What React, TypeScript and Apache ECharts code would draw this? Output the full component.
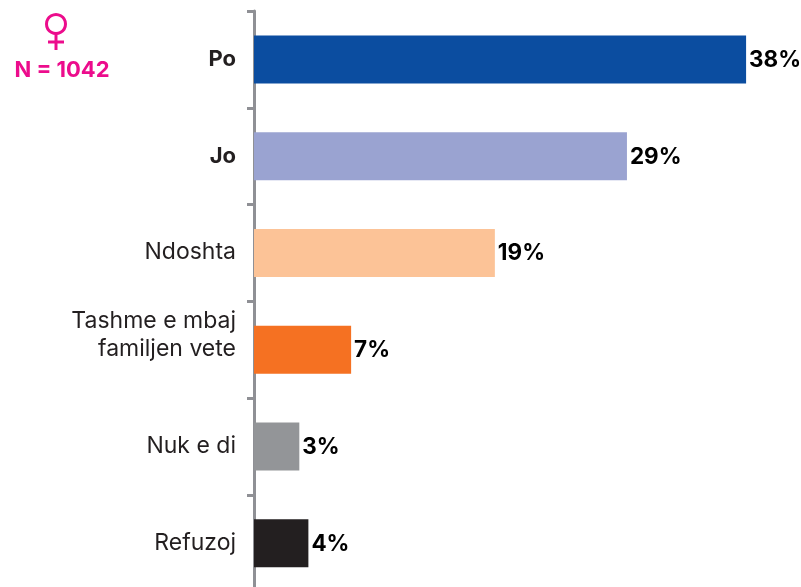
import React, { useEffect, useRef } from "react";
import * as echarts from "echarts";

const categories = ["Po", "Jo", "Ndoshta", "Tashme e mbaj\nfamiljen vete", "Nuk e di", "Refuzoj"];
const values = [38, 28.8, 18.6, 7.5, 3.5, 4.2];
const valueLabels = ["38%", "29%", "19%", "7%", "3%", "4%"];
const colors = ["#0B4DA0", "#9AA3D1", "#FCC397", "#F57122", "#939598", "#231F20"];
const boldCategories = ["Po", "Jo"];
const sampleLabel = "N = 1042";

const FONT = "Inter, 'Noto Sans', sans-serif";
const PINK = "#EC0C8C";

export default function App() {
  const ref = useRef<HTMLDivElement>(null);
  useEffect(() => {
    const chart = echarts.init(ref.current!, null, { renderer: "svg" });
    chart.setOption({
      animation: false,
      grid: { left: 254, top: 11, width: 540, height: 580.5, containLabel: false },
      xAxis: { type: "value", min: 0, max: 41.7, show: false },
      yAxis: {
        type: "category",
        inverse: true,
        data: categories,
        axisLine: { show: true, lineStyle: { color: "#8F9095", width: 3 } },
        axisTick: { show: true, length: 7, lineStyle: { color: "#8F9095", width: 3 } },
        axisLabel: {
          margin: 18,
          align: "right",
          fontFamily: FONT,
          fontSize: 23,
          lineHeight: 28,
          padding: [0, 0, 3, 0],
          color: "#231F20",
          formatter: (v: string) =>
            boldCategories.includes(v) ? `{b|${v}}` : v.includes("\n") ? `${v}\n ` : v,
          rich: { b: { fontFamily: FONT, fontSize: 22, fontWeight: "bold", color: "#231F20" } },
        },
      },
      series: [
        {
          type: "bar",
          barWidth: 48,
          data: values.map((v, i) => ({ value: v, itemStyle: { color: colors[i] } })),
          label: {
            show: true,
            position: "right",
            distance: 3,
            offset: [0, -1],
            fontFamily: FONT,
            fontSize: 22.5,
            fontWeight: "bold",
            color: "#000",
            formatter: (p: any) => valueLabels[p.dataIndex],
          },
        },
      ],
      graphic: [
        { type: "circle", shape: { cx: 56, cy: 24, r: 9.5 }, style: { fill: "none", stroke: PINK, lineWidth: 3 } },
        { type: "line", shape: { x1: 56, y1: 34, x2: 56, y2: 50 }, style: { stroke: PINK, lineWidth: 3 } },
        { type: "line", shape: { x1: 48, y1: 42, x2: 64, y2: 42 }, style: { stroke: PINK, lineWidth: 3 } },
        {
          type: "text",
          x: 62,
          y: 69,
          style: {
            text: sampleLabel,
            fontFamily: FONT,
            fontSize: 22,
            fontWeight: "bold",
            fill: PINK,
            align: "center",
            verticalAlign: "middle",
          },
        },
      ],
    });
    return () => chart.dispose();
  }, []);
  return (
    <div style={{ position: "fixed", left: 0, top: 0, width: 801, height: 587, overflow: "hidden" }}>
      <div ref={ref} style={{ width: 801, height: 600 }} />
    </div>
  );
}
